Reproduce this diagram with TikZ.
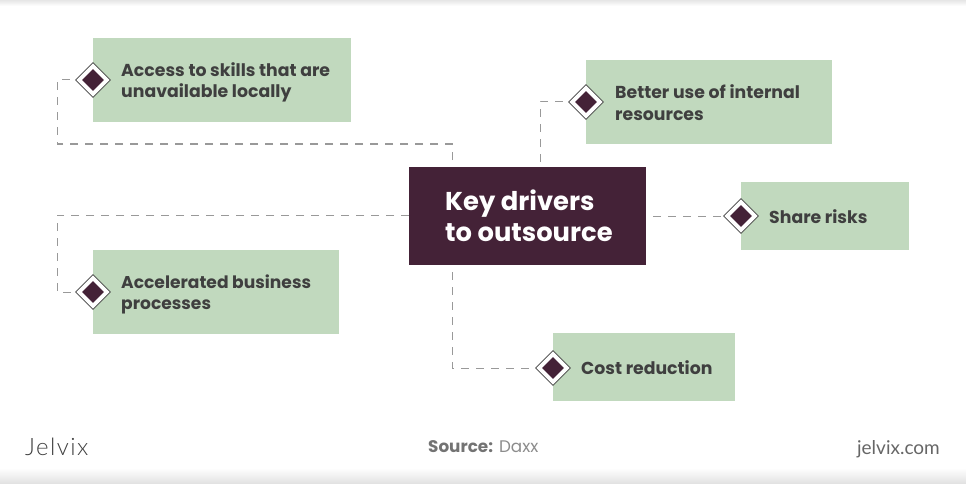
\documentclass[tikz,border=0pt]{standalone}
\usepackage{fontspec}
\setmainfont{Poppins}
\newfontfamily\thinfont[LetterSpace=6]{Lato Light}
\newfontfamily\sitefont{Lato}
\usetikzlibrary{shapes.geometric,calc}
\definecolor{plum}{HTML}{442237}
\definecolor{sage}{HTML}{C1D9BE}
\definecolor{inkc}{HTML}{3F3F3F}
\definecolor{dashc}{HTML}{999999}
\tikzset{
  x=1pt,y=-1pt,
  greenbox/.style={fill=sage,draw=none,inner sep=0pt,anchor=north west},
  lab/.style={anchor=west,align=left,text=inkc,font=\fontsize{17.3}{21.3}\selectfont\bfseries,inner sep=0pt},
  gem/.style={diamond,draw=inkc,line width=0.7pt,fill=white,minimum size=35pt,inner sep=0pt,aspect=1},
  gemcore/.style={diamond,fill=plum,minimum size=22pt,inner sep=0pt,aspect=1},
  link/.style={draw=dashc,line width=1pt,dash pattern=on 8pt off 7pt},
}
\begin{document}
\begin{tikzpicture}
\useasboundingbox (0,0) rectangle (966,484);
\shade[top color=black!10,bottom color=white] (0,0) rectangle (966,6);
\shade[top color=white,bottom color=black!12] (0,468) rectangle (966,484);
% boxes
\node[greenbox,minimum width=258pt,minimum height=84pt] (ba) at (93,38) {};
\node[greenbox,minimum width=246pt,minimum height=84pt] (bb) at (586,60) {};
\node[greenbox,minimum width=168pt,minimum height=68pt] (bc) at (741,182) {};
\node[greenbox,minimum width=246pt,minimum height=84pt] (bd) at (93,250) {};
\node[greenbox,minimum width=182pt,minimum height=68pt] (be) at (553,333) {};
\node[fill=plum,inner sep=0pt,anchor=north west,minimum width=237pt,minimum height=98pt] (key) at (409,167) {};
% anchors on the centre box
\coordinate (ka) at (452,160);
\coordinate (kb) at (540,162);
\coordinate (kc) at (653,216);
\coordinate (kd) at (409,215);
\coordinate (ke) at (452,272);
\coordinate (va) at (57,144);
\coordinate (vd) at (57,215);
% gems
\node[gem] (ga) at (93,80) {};
\node[gem] (gb) at (586,102) {};
\node[gem] (gc) at (741,216) {};
\node[gem] (gd) at (93,292) {};
\node[gem] (ge) at (553,368) {};
% connectors
\draw[link] (ka) -- (452,144) -- (va) -- (va |- ga) -- (ga.west);
\draw[link] (kb) -- (kb |- gb) -- (gb.west);
\draw[link] (kc) -- (gc.west);
\draw[link] (kd) -- (vd) -- (vd |- gd) -- (gd.west);
\draw[link] (ke) -- (ke |- ge) -- (ge.west);
\foreach \g in {ga,gb,gc,gd,ge}{\node[gemcore] at (\g) {};}
% labels
\node[lab] (la) at (121,82.5) {Access to skills that are\\unavailable locally};
\node[lab] (lb) at (615,102.5) {Better use of internal\\resources};
\node[lab] (lc) at (769,217) {Share risks};
\node[lab,font=\fontsize{17.1}{21.3}\selectfont\bfseries] (ld) at (121,294.5) {Accelerated business\\processes};
\node[lab] (le) at (581,368) {Cost reduction};
\node[anchor=west,align=left,text=white,inner sep=0pt,font=\fontsize{25.8}{31}\selectfont\bfseries] (lk) at (445,216) {Key drivers\\to outsource};
\node[anchor=west,inner sep=0pt,text=inkc,font=\thinfont\fontsize{24}{26}\selectfont] (logo) at (25,447) {Jelvix};
\node[anchor=west,inner sep=0pt,text=black!55,font=\fontsize{16.8}{20}\selectfont] (src) at (428,447) {\textbf{Source:} \textcolor{black!45}{Daxx}};
\node[anchor=east,inner sep=0pt,text=black!60,font=\sitefont\fontsize{19}{22}\selectfont] (site) at (940,449) {jelvix.com};
\end{tikzpicture}
\end{document}
